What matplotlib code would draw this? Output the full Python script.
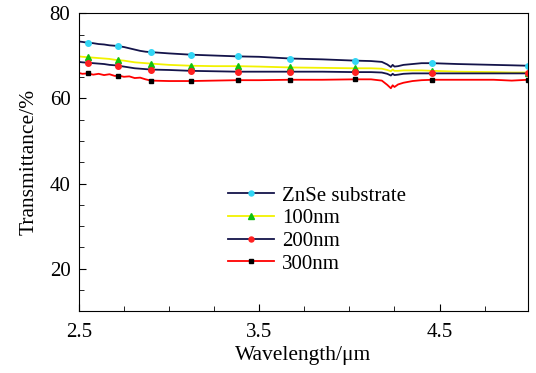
import matplotlib
matplotlib.use("Agg")
import matplotlib.pyplot as plt
from matplotlib.ticker import MultipleLocator, FixedLocator

plt.rcParams.update({'font.family': 'Liberation Serif', 'mathtext.fontset': 'stix'})

wavelength = [2.50, 2.52, 2.55, 2.58, 2.61, 2.64, 2.67, 2.70, 2.72, 2.75, 2.78, 2.81,
              2.84, 2.87, 2.90, 3.00, 3.12, 3.25, 3.38, 3.50, 3.67, 3.85, 4.03, 4.12,
              4.18, 4.21, 4.23, 4.24, 4.25, 4.27, 4.30, 4.35, 4.40, 4.46, 4.60, 4.80,
              4.90, 4.99]

znse = [73.4, 73.3, 73.1, 73.0, 72.8, 72.7, 72.5, 72.4, 72.3, 72.1, 71.8, 71.5,
        71.2, 71.0, 70.9, 70.6, 70.3, 70.1, 69.9, 69.8, 69.4, 69.2, 68.9, 68.8,
        68.6, 68.0, 67.4, 67.9, 67.5, 67.6, 67.9, 68.1, 68.3, 68.3, 68.1, 67.9,
        67.8, 67.7]

nm100 = [69.9, 69.8, 69.7, 69.6, 69.5, 69.4, 69.3, 69.1, 69.0, 68.9, 68.7, 68.5,
         68.4, 68.3, 68.2, 67.9, 67.7, 67.6, 67.6, 67.5, 67.3, 67.2, 67.1, 67.1,
         67.0, 66.7, 66.4, 66.8, 66.5, 66.5, 66.6, 66.6, 66.6, 66.5, 66.3, 66.2,
         66.1, 66.1]

nm200 = [68.6, 68.5, 68.4, 68.3, 68.2, 68.1, 67.9, 67.8, 67.7, 67.5, 67.3, 67.1,
         67.0, 66.9, 66.8, 66.7, 66.5, 66.4, 66.3, 66.3, 66.3, 66.3, 66.2, 66.2,
         66.1, 65.8, 65.4, 65.8, 65.5, 65.6, 65.8, 65.9, 65.9, 65.9, 65.9, 65.9,
         65.9, 65.9]

nm300 = [66.0, 65.8, 65.9, 65.6, 65.8, 65.5, 65.7, 65.3, 65.4, 65.1, 65.2, 64.8,
         64.9, 64.5, 64.2, 64.1, 64.1, 64.2, 64.3, 64.3, 64.4, 64.4, 64.5, 64.5,
         64.2, 63.2, 62.4, 63.1, 62.7, 63.3, 63.7, 64.1, 64.3, 64.4, 64.4, 64.4,
         64.2, 64.4]

series_labels = ['ZnSe substrate', '100nm', '200nm', '300nm']
marker_idx = [2, 8, 14, 16, 18, 20, 22, 33, 37]

fig = plt.figure(figsize=(5.36, 3.73), dpi=100)
ax = fig.add_axes([0.147, 0.166, 0.838, 0.798])

styles = [
    dict(color='#14144a', marker='o', mfc='#33d6f5', mec='#33d6f5', ms=4),
    dict(color='#f2f200', marker='^', mfc='#10c010', mec='#10c010', ms=4.5),
    dict(color='#14144a', marker='o', mfc='#ff2020', mec='#ff2020', ms=4),
    dict(color='#ff0000', marker='s', mfc='#000000', mec='#000000', ms=3.5),
]
for ys, lab, st in zip([znse, nm100, nm200, nm300], series_labels, styles):
    ax.plot(wavelength, ys, lw=1.3, label=lab, markevery=marker_idx, **st)

ax.set_xlim(2.5, 4.99)
ax.set_ylim(10, 80)
ax.xaxis.set_major_locator(FixedLocator([2.5, 3.5, 4.5]))
ax.xaxis.set_minor_locator(MultipleLocator(0.25))
ax.yaxis.set_major_locator(MultipleLocator(20))
ax.yaxis.set_minor_locator(MultipleLocator(5))
ax.tick_params(which='both', direction='in', top=False, right=False, labelsize=15)
ax.tick_params(which='major', length=5)
ax.tick_params(which='minor', length=3.5)
ax.tick_params(axis='x', which='major', pad=8.5)
ax.tick_params(axis='y', which='major', pad=6)

ax.set_xlabel('Wavelength/μm', fontsize=15.5, labelpad=3)
ax.set_ylabel('Transmittance/%', fontsize=15.5, labelpad=8)

ax.legend(loc='upper left', bbox_to_anchor=(228 / 536, 1 - 186 / 373),
          bbox_transform=fig.transFigure, frameon=False, fontsize=15,
          handlelength=2.2, handletextpad=0.4, labelspacing=0.15, borderpad=0,
          borderaxespad=0, markerscale=0.9)

fig.savefig('out.png', dpi=100)
